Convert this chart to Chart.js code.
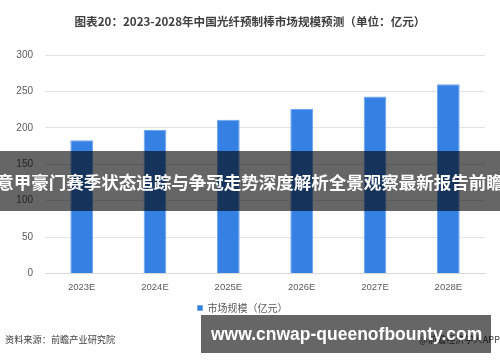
<!DOCTYPE html>
<html><head><meta charset="utf-8">
<script src="https://cdn.jsdelivr.net/npm/chart.js@4"></script>
<style>
html,body{margin:0;padding:0;background:#fff;width:500px;height:362px;overflow:hidden;font-family:"Noto Sans CJK SC","Noto Sans",sans-serif;}
#wrap{position:absolute;left:0;top:0;width:500px;height:362px;}
.t{position:absolute;white-space:nowrap;}
#title{left:0;width:500px;top:13px;text-align:center;font-size:11.6px;font-weight:bold;color:#404040;}
#src{left:5px;top:332px;font-size:9.2px;color:#404040;}
#app{right:0;top:332px;font-size:9.2px;color:#404040;}
#b1{position:absolute;left:0;top:151px;width:500px;height:60px;background:rgba(0,0,0,0.6);overflow:hidden;}
#b1 span{position:absolute;left:50%;top:50%;transform:translate(-50%,-50%);white-space:nowrap;color:#fff;font-weight:bold;font-size:17.5px;}
#b2{position:absolute;left:201px;top:315px;width:290px;height:38px;background:rgba(0,0,0,0.6);}
#b2 span{position:absolute;left:10px;top:50%;transform:translateY(-50%);white-space:nowrap;color:#fff;font-weight:bold;font-size:17.5px;font-family:"Liberation Sans",sans-serif;}
</style></head>
<body>
<div id="wrap"><canvas id="c" width="500" height="362"></canvas></div>
<div class="t" id="title">图表20：2023-2028年中国光纤预制棒市场规模预测（单位：亿元）</div>
<div class="t" id="src">资料来源：前瞻产业研究院</div>
<div class="t" id="app">@前瞻经济学人APP</div>
<div id="b1"><span>意甲豪门赛季状态追踪与争冠走势深度解析全景观察最新报告前瞻</span></div>
<div id="b2"><span>www.cnwap-queenofbounty.com</span></div>
<script>
const categories = ["2023E","2024E","2025E","2026E","2027E","2028E"];
const marketSize = [183, 197, 211, 226, 243, 260];
const seriesName = "市场规模（亿元）";
const yTicks = [0,50,100,150,200,250,300];

new Chart(document.getElementById('c'), {
  type: 'bar',
  data: {
    labels: categories,
    datasets: [{
      label: seriesName,
      data: marketSize,
      backgroundColor: '#3581e3',
      borderColor: '#6fa6ee',
      borderWidth: 1,
      categoryPercentage: 1,
      barPercentage: 0.31
    }]
  },
  options: {
    responsive: false,
    animation: false,
    layout: { padding: { top: 55, right: 15, bottom: 39, left: 0 } },
    plugins: {
      legend: {
        position: 'bottom',
        labels: { usePointStyle: true, pointStyle: 'rect', boxWidth: 5, boxHeight: 5, color: '#595959', font: { size: 10, family: '"Noto Sans CJK SC"' }, padding: 2 }
      },
      tooltip: { enabled: false }
    },
    scales: {
      x: {
        grid: { display: false, drawTicks: false },
        border: { color: '#d9d9d9', width: 1 },
        ticks: { color: '#595959', font: { size: 9.5, family: '"Liberation Sans"' }, padding: 8 }
      },
      y: {
        min: 0, max: 300,
        afterBuildTicks: (s) => { s.ticks = yTicks.map(v => ({ value: v })); },
        afterFit: (s) => { s.width = 45; },
        grid: { color: '#e3e3e3', drawTicks: false },
        border: { display: false },
        ticks: { color: '#595959', font: { size: 10, family: '"Liberation Sans"' }, padding: 12 }
      }
    }
  }
});
</script>
</body></html>
